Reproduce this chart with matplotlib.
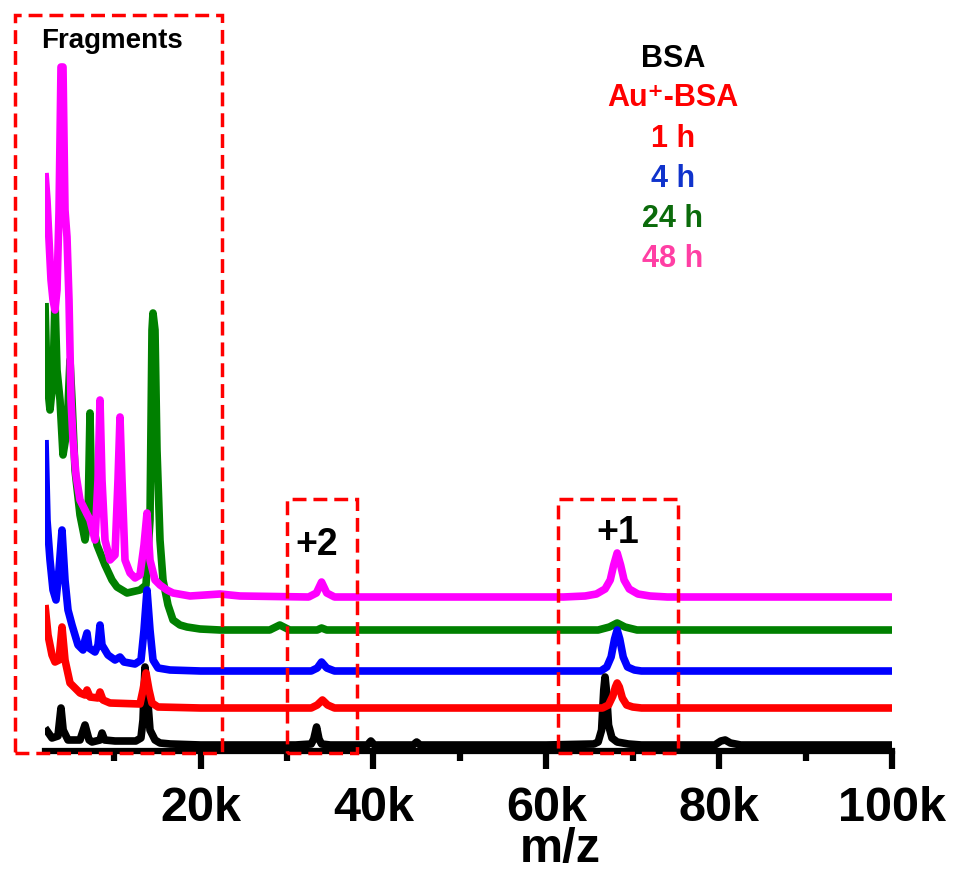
import matplotlib
matplotlib.use("Agg")
import matplotlib.pyplot as plt
from matplotlib.patches import Rectangle
from matplotlib.ticker import FixedLocator

plt.rcParams['font.family'] = ['Liberation Sans', 'DejaVu Sans']

# ---------------- data (m/z, relative intensity above each trace's baseline) -------------
bsa_mz = [2000, 2810, 3500, 3850, 4100, 4661, 6050, 6628, 7100, 7438, 8364, 8595, 8900,
          10099, 12500, 13100, 13339, 13570, 13800, 14149, 14727, 15306, 16500, 20000,
          31000, 32800, 33100, 33420, 33700, 34000, 35000, 39300, 39700, 40100, 44600,
          45000, 45400, 60000, 65500, 66000, 66400, 66650, 66800, 66950, 67200, 67600,
          68200, 69500, 71000, 79500, 80200, 80700, 81300, 82500, 100000]
bsa_int = [17, 7, 9, 37, 15, 5, 5, 20, 5, 3, 5, 12, 5,
           4, 4, 7, 25, 78, 55, 15, 5, 2, 1, 0,
           0, 1, 6, 18, 6, 1, 0, 0, 4, 0, 0,
           3, 0, 0, 1, 3, 15, 55, 68, 55, 20, 7,
           3, 1, 0, 0, 4, 5, 2, 0, 0]

h1_mz = [2000, 2347, 2810, 3157, 3620, 3967, 4314, 4893, 6050, 6628, 6860, 7207, 8133,
         8364, 8711, 9520, 12992, 13339, 13686, 14033, 14380, 15074, 20000, 32800,
         33500, 34100, 34700, 35500, 66500, 67200, 67700, 68000, 68200, 68450, 68800,
         69300, 70000, 71000, 100000]
h1_int = [103, 73, 53, 46, 48, 81, 48, 25, 15, 13, 18, 11, 10,
          16, 8, 5, 4, 18, 35, 18, 5, 1, 0, 0,
          3, 8, 3, 0, 0, 3, 12, 21, 25, 21, 10,
          3, 1, 0, 0]

h4_mz = [2000, 2231, 2578, 2926, 3273, 3620, 3967, 4314, 4661, 5124, 5818, 6397, 6628,
         6860, 7091, 7785, 8133, 8364, 8595, 9289, 10099, 10678, 11141, 12414, 13108,
         13455, 13802, 14149, 14496, 15074, 16463, 20000, 32800, 33500, 34000, 34600,
         35500, 66300, 67000, 67500, 67900, 68200, 68500, 68900, 69400, 70200, 71000,
         100000]
h4_int = [231, 151, 111, 81, 71, 101, 141, 91, 61, 46, 26, 21, 31,
          38, 23, 19, 26, 46, 26, 16, 11, 14, 9, 7, 11,
          41, 81, 41, 11, 3, 1, 0, 0, 3, 9, 3,
          0, 0, 4, 14, 32, 41, 32, 14, 4, 1, 0,
          0]

h24_mz = [2000, 2231, 2578, 2926, 3157, 3388, 3736, 4083, 4545, 4893, 5124, 5471, 6050,
          6628, 6975, 7207, 7438, 8017, 8942, 9752, 10330, 11488, 12992, 13686, 14149,
          14380, 14496, 14727, 14958, 15306, 15653, 16231, 16810, 17620, 18430, 19934,
          22248, 28000, 29170, 30300, 33500, 34000, 34600, 66000, 67300, 68200, 69100,
          70500, 100000]
h24_int = [327, 250, 220, 250, 330, 260, 230, 175, 200, 270, 230, 160, 115,
           90, 110, 217, 110, 85, 65, 50, 43, 37, 40, 45, 110,
           300, 317, 300, 180, 90, 50, 25, 10, 5, 3, 1,
           0, 0, 5, 0, 0, 2, 0, 0, 3, 7, 3,
           0, 0]

h48_mz = [2000, 2231, 2463, 2694, 2926, 3157, 3388, 3620, 3851, 4083, 4314, 4545, 4777,
          5008, 5240, 5587, 6050, 6628, 7207, 7785, 8133, 8364, 8595, 8942, 9520,
          10099, 10446, 10678, 10909, 11256, 11835, 12414, 12992, 13455, 13802, 14149,
          14727, 15306, 16116, 16810, 18777, 22248, 24562, 32500, 33400, 34000, 34600,
          35500, 62000, 64500, 65800, 66800, 67400, 67800, 68200, 68600, 69000, 69600,
          70600, 72000, 74000, 100000]
h48_int = [424, 397, 357, 317, 297, 287, 307, 385, 530, 530, 387, 360, 297,
           197, 157, 122, 97, 87, 77, 57, 117, 197, 117, 57, 37,
           42, 117, 180, 117, 37, 24, 19, 22, 52, 84, 37,
           17, 12, 7, 4, 1, 3, 1, 0, 4, 15, 4,
           0, 0, 1, 3, 8, 17, 32, 44, 32, 17, 8,
           3, 1, 0, 0]

series_mz = [bsa_mz, h1_mz, h4_mz, h24_mz, h48_mz]
series_int = [bsa_int, h1_int, h4_int, h24_int, h48_int]
offsets = [6, 43, 80, 121, 154]
line_colors = ['#000000', '#FF0000', '#0000FF', '#008000', '#FF00FF']
zorders = [4, 5, 3, 1, 2]

legend_labels = ['BSA', 'Au\u207a-BSA', '1 h', '4 h', '24 h', '48 h']
legend_colors = ['#000000', '#FF0000', '#FF0000', '#1033CC', '#0B6B0B', '#FF3FA4']

xticks_major = [20000, 40000, 60000, 80000, 100000]
xtick_labels = ['20k', '40k', '60k', '80k', '100k']
xticks_minor = [10000, 30000, 50000, 70000, 90000]

# boxes (m/z range, height top)
boxes = [(-1470, 22480, 736), (30000, 38100, 252), (61300, 75200, 252)]

# ---------------- figure ----------------
W, H = 956, 871
fig = plt.figure(figsize=(W / 100, H / 100), dpi=100)
ax = fig.add_axes([45 / W, (H - 751) / H, 847 / W, 741 / H])
ax.set_xlim(2000, 100000)
ax.set_ylim(0, 741)

for mz, inten, off, c, z in zip(series_mz, series_int, offsets, line_colors, zorders):
    ax.plot(mz, [v + off for v in inten], color=c, lw=5.5, zorder=z,
            solid_joinstyle='round', solid_capstyle='butt')

for x0, x1, top in boxes:
    ax.add_patch(Rectangle((x0, -2), x1 - x0, top + 2, fill=False, edgecolor='#FF0000',
                           lw=2.5, linestyle=(0, (4, 2)), clip_on=False, zorder=10))

for s in ['left', 'right', 'top']:
    ax.spines[s].set_visible(False)
ax.spines['bottom'].set_linewidth(4.5)
ax.set_yticks([])
ax.xaxis.set_major_locator(FixedLocator(xticks_major))
ax.xaxis.set_minor_locator(FixedLocator(xticks_minor))
ax.set_xticklabels(xtick_labels)
ax.tick_params(axis='x', which='major', direction='out', length=13, width=4.5, pad=12,
               labelsize=35)
ax.tick_params(axis='x', which='minor', direction='out', length=7, width=4.5)
for lab in ax.get_xticklabels():
    lab.set_fontweight('bold')


def ftext(px, py, s, **kw):
    fig.text(px / W, 1 - py / H, s, fontweight='bold', ha='center', va='baseline', **kw)


ftext(560, 862, 'm/z', fontsize=35)
ftext(112, 48, 'Fragments', fontsize=20, color='black')
ftext(317, 555, '+2', fontsize=27, color='black')
ftext(618, 543, '+1', fontsize=27, color='black')

legend_y = [67, 106, 147, 187, 227, 267]
for lbl, c, y in zip(legend_labels, legend_colors, legend_y):
    ftext(673, y, lbl, fontsize=22, color=c)

fig.savefig('out.png', dpi=100)
